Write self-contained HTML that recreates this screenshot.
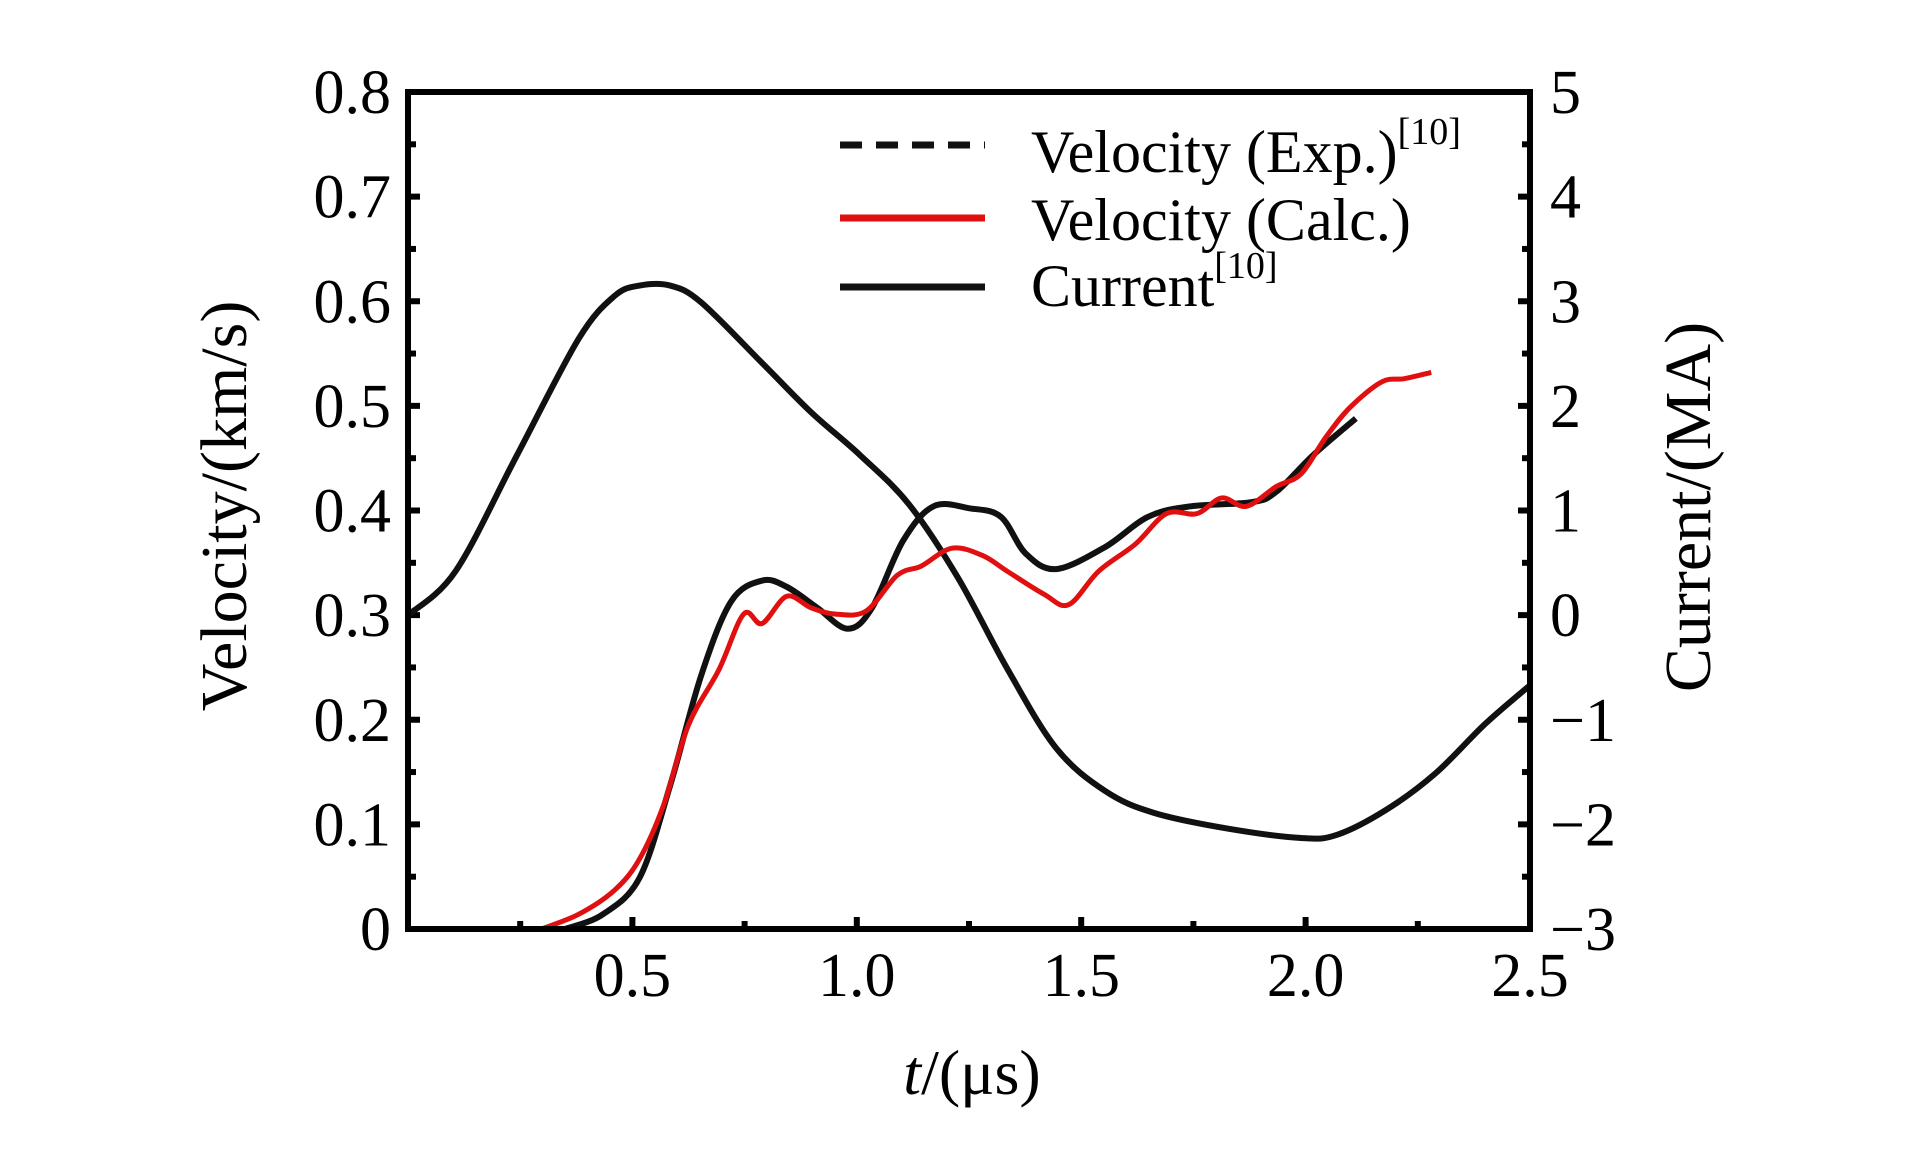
<!DOCTYPE html>
<html><head><meta charset="utf-8"><style>
html,body{margin:0;padding:0;background:#fff;}
svg{display:block;font-family:"Liberation Serif",serif;}
</style></head><body>
<svg id="chart" width="1923" height="1169" viewBox="0 0 1923 1169" xmlns="http://www.w3.org/2000/svg">
<g id="plot"></g>
</svg>
<script>
const xTicks=[0.5,1.0,1.5,2.0,2.5];
const xTickLabels=["0.5","1.0","1.5","2.0","2.5"];
const vTicks=[0,0.1,0.2,0.3,0.4,0.5,0.6,0.7,0.8];
const vTickLabels=["0","0.1","0.2","0.3","0.4","0.5","0.6","0.7","0.8"];
const iTicks=[-3,-2,-1,0,1,2,3,4,5];
const iTickLabels=["\u22123","\u22122","\u22121","0","1","2","3","4","5"];
const currentT=[0,0.106,0.243,0.38,0.46,0.516,0.584,0.653,0.789,0.898,1.007,1.116,1.225,1.335,1.444,1.553,1.662,1.826,1.99,2.07,2.18,2.29,2.40,2.5];
const currentI=[0,0.42,1.53,2.64,3.05,3.15,3.15,2.99,2.41,1.94,1.53,1.06,0.36,-0.51,-1.27,-1.68,-1.89,-2.04,-2.13,-2.10,-1.86,-1.51,-1.04,-0.67];
const expT=[0.35,0.434,0.516,0.584,0.653,0.72,0.789,0.844,0.912,0.98,1.034,1.103,1.171,1.253,1.321,1.376,1.444,1.553,1.649,1.744,1.881,1.935,2.017,2.112];
const expV=[0,0.014,0.049,0.137,0.242,0.313,0.333,0.327,0.307,0.287,0.307,0.371,0.404,0.402,0.394,0.359,0.344,0.365,0.394,0.404,0.408,0.418,0.453,0.488];
const calcT=[0.297,0.38,0.46,0.516,0.57,0.625,0.693,0.748,0.789,0.844,0.898,0.953,1.021,1.09,1.144,1.212,1.28,1.335,1.417,1.472,1.539,1.621,1.69,1.758,1.813,1.868,1.935,1.99,2.045,2.1,2.17,2.22,2.28];
const calcV=[0,0.014,0.037,0.067,0.119,0.195,0.248,0.301,0.292,0.318,0.307,0.301,0.304,0.338,0.347,0.364,0.357,0.342,0.320,0.31,0.342,0.368,0.397,0.397,0.412,0.404,0.423,0.435,0.470,0.499,0.523,0.526,0.532];

const L=408,R=1530,T=92,B=929;
const X=t=>L+(t/2.5)*(R-L);
const YV=v=>B-(v/0.8)*(B-T);
const YI=i=>B-((i+3)/8)*(B-T);
const NS="http://www.w3.org/2000/svg";
const g=document.getElementById('plot');
function mk(tag,attrs,parent){const e=document.createElementNS(NS,tag);for(const k in attrs)e.setAttribute(k,attrs[k]);(parent||g).appendChild(e);return e;}
function smooth(pts){let d="M"+pts[0][0]+","+pts[0][1];for(let i=0;i<pts.length-1;i++){const p0=pts[i-1]||pts[i],p1=pts[i],p2=pts[i+1],p3=pts[i+2]||p2;const c1x=p1[0]+(p2[0]-p0[0])/6,c1y=p1[1]+(p2[1]-p0[1])/6,c2x=p2[0]-(p3[0]-p1[0])/6,c2y=p2[1]-(p3[1]-p1[1])/6;d+=` C${c1x},${c1y} ${c2x},${c2y} ${p2[0]},${p2[1]}`;}return d;}

for(let i=0;i<vTicks.length;i++){
 const y=YV(vTicks[i]);
 const tk=mk('line',{x1:L,x2:L+12,y1:y,y2:y,stroke:'#000','stroke-width':6});
 
 
 if(i<vTicks.length-1){const ym=YV(vTicks[i]+0.05);const m=mk('line',{x1:L,x2:L+8,y1:ym,y2:ym,stroke:'#000','stroke-width':6});
 
 }
 const tx=mk('text',{x:391,y:y+21,'text-anchor':'end','font-size':62});
 tx.textContent=vTickLabels[i];
 
 
}
for(let i=0;i<iTicks.length;i++){
 const y=YI(iTicks[i]);
 const tk=mk('line',{x1:R-12,x2:R,y1:y,y2:y,stroke:'#000','stroke-width':6});
 
 
 if(i<iTicks.length-1){const ym=YI(iTicks[i]+0.5);const m=mk('line',{x1:R-8,x2:R,y1:ym,y2:ym,stroke:'#000','stroke-width':6});
 
 }
 const tx=mk('text',{x:1550,y:y+21,'text-anchor':'start','font-size':62});
 tx.textContent=iTickLabels[i];
 
 
}
for(let i=0;i<xTicks.length;i++){
 const x=X(xTicks[i]);
 const tk=mk('line',{x1:x,x2:x,y1:B,y2:B-12,stroke:'#000','stroke-width':6});
 
 
 const xm=X(xTicks[i]-0.25);const m=mk('line',{x1:xm,x2:xm,y1:B,y2:B-8,stroke:'#000','stroke-width':6});
 
 
 const tx=mk('text',{x:x,y:996,'text-anchor':'middle','font-size':62});
 tx.textContent=xTickLabels[i];
 
 
}
const cur=mk('path',{d:smooth(currentT.map((t,i)=>[X(t),YI(currentI[i])])),fill:'none',stroke:'#111','stroke-width':6});


const ex=mk('path',{d:smooth(expT.map((t,i)=>[X(t),YV(expV[i])])),fill:'none',stroke:'#111','stroke-width':6});


const ca=mk('path',{d:smooth(calcT.map((t,i)=>[X(t),YV(calcV[i])])),fill:'none',stroke:'#e01010','stroke-width':5});


const fr=mk('rect',{x:L,y:T,width:R-L,height:B-T,fill:'none',stroke:'#000','stroke-width':6});


</script>
<svg style="position:absolute;left:0;top:0" width="1923" height="1169" font-family="Liberation Serif, serif">
<g>
 <line x1="840" y1="145" x2="985" y2="145" stroke="#111" stroke-width="7" stroke-dasharray="22,14"/>
 <text x="1031" y="172" font-size="60">Velocity (Exp.)<tspan font-size="38" dy="-28">[10]</tspan></text>
 <line x1="840" y1="218" x2="985" y2="218" stroke="#e01010" stroke-width="7"/>
 <text x="1031" y="240" font-size="60">Velocity (Calc.)</text>
 <line x1="840" y1="287" x2="985" y2="287" stroke="#111" stroke-width="7"/>
 <text x="1031" y="306" font-size="60">Current<tspan font-size="38" dy="-28">[10]</tspan></text>
</g>
<text x="972" y="1094" font-size="64" text-anchor="middle"><tspan font-style="italic">t</tspan>/(μs)</text>
<text transform="translate(246,506) rotate(-90)" font-size="66" text-anchor="middle">Velocity/(km/s)</text>
<text transform="translate(1710,507) rotate(-90)" font-size="66" text-anchor="middle">Current/(MA)</text>
</svg>
</body></html>
